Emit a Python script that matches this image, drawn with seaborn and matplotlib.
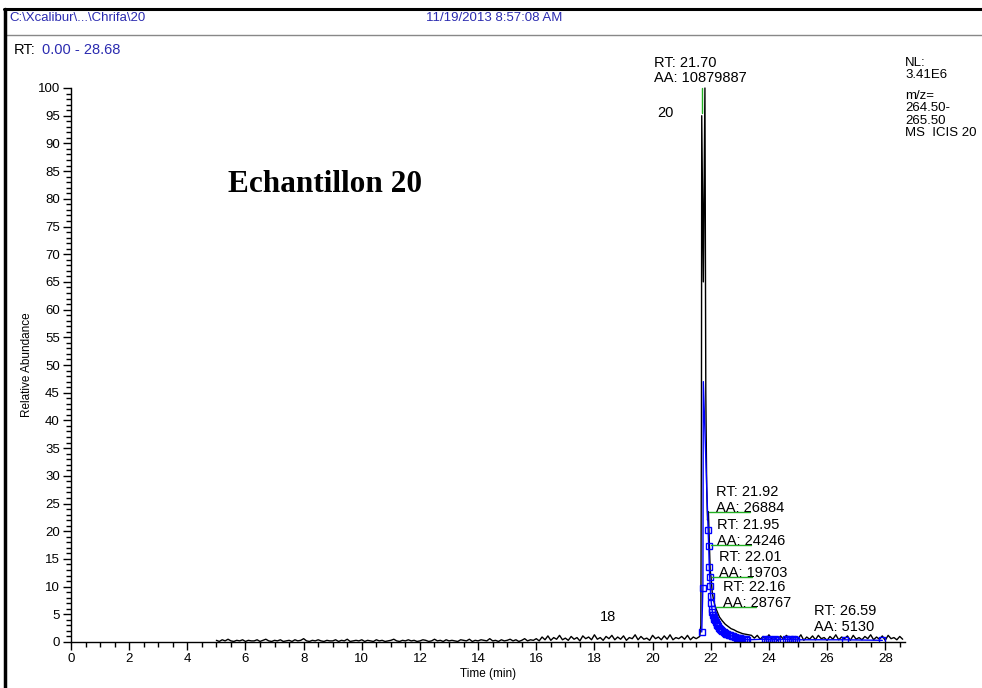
import numpy as np
import pandas as pd
import matplotlib
matplotlib.use("Agg")
import matplotlib.pyplot as plt
from matplotlib.lines import Line2D
from matplotlib.ticker import MultipleLocator
import seaborn as sns

# ---------------- data ----------------
# baseline noise, 5.0 - 15.9 min (step 0.1)
noise_early = [0.3, 0.1, 0.4, 0.2, 0.5, 0.2, 0.1, 0.3, 0.2, 0.4,
               0.1, 0.3, 0.2, 0.2, 0.4, 0.1, 0.3, 0.5, 0.2, 0.1,
               0.3, 0.2, 0.4, 0.1, 0.2, 0.3, 0.1, 0.4, 0.2, 0.3,
               0.6, 0.2, 0.1, 0.3, 0.2, 0.4, 0.2, 0.1, 0.3, 0.2,
               0.2, 0.4, 0.1, 0.3, 0.2, 0.5, 0.1, 0.2, 0.3, 0.2,
               0.4, 0.1, 0.3, 0.2, 0.1, 0.4, 0.2, 0.3, 0.1, 0.2,
               0.3, 0.5, 0.2, 0.1, 0.3, 0.2, 0.4, 0.2, 0.3, 0.1,
               0.2, 0.4, 0.3, 0.1, 0.2, 0.5, 0.2, 0.3, 0.1, 0.4,
               0.2, 0.3, 0.2, 0.1, 0.4, 0.3, 0.2, 0.5, 0.1, 0.3,
               0.2, 0.4, 0.3, 0.2, 0.6, 0.2, 0.3, 0.1, 0.4, 0.2,
               0.3, 0.5, 0.2, 0.4, 0.1, 0.3, 0.6, 0.2, 0.4, 0.3]
# baseline noise, 16.0 - 21.5 min (step 0.1)
noise_late = [0.6, 0.2, 0.9, 0.4, 1.1, 0.3, 0.8, 0.5, 1.2, 0.4,
              0.7, 0.3, 1.0, 0.5, 0.8, 0.2, 1.1, 0.6, 0.9, 0.4,
              1.3, 0.5, 0.8, 0.3, 1.0, 0.6, 1.2, 0.4, 0.9, 0.5,
              1.1, 0.3, 0.8, 0.6, 1.3, 0.4, 1.0, 0.5, 0.7, 0.3,
              1.2, 0.6, 0.9, 0.4, 1.1, 0.5, 1.3, 0.4, 0.8, 0.6,
              1.0, 0.5, 1.2, 0.4, 0.9, 0.6]
# main peak (black trace)
peak_t = [21.62, 21.66, 21.68, 21.69, 21.745, 21.80, 21.83, 21.86, 21.89, 21.92,
          21.95, 21.98, 22.01, 22.05, 22.10, 22.16, 22.22, 22.30, 22.40, 22.50,
          22.60, 22.70, 22.80, 22.90, 23.00, 23.10, 23.20, 23.30, 23.40]
peak_v = [1.0, 3.0, 40.0, 95.0, 65.0, 100.0, 45.0, 28.0, 22.0, 23.5,
          18.0, 13.0, 11.7, 9.0, 7.5, 6.3, 5.5, 4.5, 3.8, 3.2,
          2.8, 2.4, 2.2, 1.9, 1.7, 1.5, 1.4, 1.3, 1.2]
# baseline noise after the peak, 23.5 - 28.6 min (step 0.1)
noise_tail = [0.7, 1.2, 0.5, 1.0, 0.4, 1.3, 0.6, 0.9, 0.3, 1.1,
              0.5, 1.2, 0.7, 0.4, 1.0, 0.6, 1.3, 0.3, 0.9, 0.5,
              1.1, 0.4, 1.2, 0.6, 0.8, 0.3, 1.0, 0.5, 1.3, 0.4,
              0.9, 0.6, 1.1, 0.3, 1.2, 0.5, 0.8, 0.4, 1.0, 0.6,
              1.3, 0.4, 0.9, 0.5, 1.1, 0.3, 1.2, 0.6, 0.8, 0.4,
              1.0, 0.5]

# ICIS detected trace (blue, squares)
blue_t = [21.69, 21.73, 21.745, 21.91, 21.93, 21.95, 21.965, 21.98, 22.00, 22.02,
          22.04, 22.06, 22.08, 22.10, 22.12, 22.14, 22.17, 22.20, 22.23, 22.26,
          22.29, 22.32, 22.36, 22.40, 22.44, 22.48, 22.52, 22.57, 22.62, 22.67,
          22.72, 22.78, 22.84, 22.90, 22.96, 23.02, 23.08, 23.14, 23.20, 23.26,
          23.85, 23.92, 23.99, 24.06, 24.13, 24.20, 24.27,
          24.58, 24.65, 24.72, 24.79, 24.86, 24.93, 26.63, 27.90]
blue_v = [1.8, 9.8, 47.0, 20.2, 17.3, 13.5, 11.7, 10.1, 8.3, 7.0,
          6.0, 5.4, 4.9, 4.5, 4.2, 3.9, 3.6, 3.3, 3.0, 2.8,
          2.6, 2.4, 2.2, 2.0, 1.8, 1.7, 1.5, 1.4, 1.3, 1.2,
          1.1, 1.0, 0.9, 0.8, 0.7, 0.7, 0.6, 0.5, 0.5, 0.4,
          0.5, 0.4, 0.5, 0.4, 0.4, 0.5, 0.4,
          0.5, 0.4, 0.5, 0.4, 0.5, 0.4, 0.4, 0.3]

x_ticks = list(range(0, 29, 2))
y_ticks = list(range(0, 101, 5))

# annotation values
ann_rt = ["21.92", "21.95", "22.01", "22.16"]
ann_aa = ["26884", "24246", "19703", "28767"]
ann_level = [23.5, 17.5, 11.7, 6.3]
ann_x0 = [21.94, 22.0, 22.03, 22.17]
ann_tx = [22.18, 22.21, 22.28, 22.42]

# ---------------- build frames ----------------
t_early = np.round(np.arange(5.0, 5.0 + 0.1 * len(noise_early), 0.1), 2)[:len(noise_early)]
t_late = np.round(np.arange(16.0, 16.0 + 0.1 * len(noise_late), 0.1), 2)[:len(noise_late)]
t_tail = np.round(np.arange(23.5, 23.5 + 0.1 * len(noise_tail), 0.1), 2)[:len(noise_tail)]
black = pd.DataFrame({
    "t": np.concatenate([t_early, t_late, peak_t, t_tail]),
    "v": np.concatenate([noise_early, noise_late, peak_v, noise_tail]),
})
blue = pd.DataFrame({"t": blue_t, "v": blue_v})

# ---------------- figure ----------------
sns.set_theme(style="white")
plt.rcParams["font.family"] = ["Liberation Sans", "DejaVu Sans"]
plt.rcParams["text.color"] = "black"
plt.rcParams["axes.labelcolor"] = "black"
plt.rcParams["xtick.color"] = "black"
plt.rcParams["ytick.color"] = "black"

W, H = 982, 688
fig = plt.figure(figsize=(W / 100, H / 100), dpi=100)
fig.patch.set_facecolor("white")
ax = fig.add_axes([71 / W, 1 - 642 / H, (905 - 71) / W, (642 - 88) / H])
ax.set_facecolor("white")

sns.lineplot(data=black, x="t", y="v", ax=ax, color="black", lw=1.0,
             sort=False, estimator=None, clip_on=False)
sns.lineplot(data=blue, x="t", y="v", ax=ax, color="#0000ff", lw=1.0,
             sort=False, estimator=None, marker="s", markersize=5,
             markerfacecolor="none", markeredgecolor="#0000ff",
             markeredgewidth=1.0, markevery=[i for i in range(len(blue_t)) if i != 2])

ax.set_xlim(0, 28.68)
ax.set_ylim(0, 100)
for s in ["top", "right"]:
    ax.spines[s].set_visible(False)
for s in ["left", "bottom"]:
    ax.spines[s].set_color("black")
    ax.spines[s].set_linewidth(1.0)

ax.set_xticks(x_ticks)
ax.set_yticks(y_ticks)
ax.xaxis.set_minor_locator(MultipleLocator(0.5))
ax.yaxis.set_minor_locator(MultipleLocator(1))
ax.tick_params(axis="both", which="major", direction="out", length=6, width=1,
               color="black", labelsize=9.5, pad=2, labelcolor="black",
               bottom=True, left=True)
ax.tick_params(axis="both", which="minor", direction="out", length=3.5, width=1,
               color="black", bottom=True, left=True)
ax.set_xlabel("Time (min)", fontsize=8.5, labelpad=2, color="black")
ax.set_ylabel("Relative Abundance", fontsize=8.5, labelpad=3, color="black")
ax.grid(False)

# green markers
ax.plot([21.70, 21.70], [95.5, 100], color="#22b022", lw=1, clip_on=False)
for x0, lvl in zip(ann_x0, ann_level):
    ax.plot([x0, x0 + 1.4], [lvl, lvl], color="#22b022", lw=1)

fs = 10.5
ax.text(20.05, 100.5, "RT: 21.70\nAA: 10879887", ha="left", va="bottom",
        fontsize=fs, linespacing=1.1, clip_on=False)
ax.text(20.45, 95.5, "20", ha="center", va="center", fontsize=fs)
ax.text(18.45, 4.5, "18", ha="center", va="center", fontsize=fs)
for tx, lvl, rt, aa in zip(ann_tx, ann_level, ann_rt, ann_aa):
    ax.text(tx, lvl - 0.5, f"RT: {rt}\nAA: {aa}", ha="left", va="bottom",
            fontsize=fs, linespacing=1.15)
ax.text(25.55, 1.5, "RT: 26.59\nAA: 5130", ha="left", va="bottom",
        fontsize=fs, linespacing=1.15)
ax.text(5.4, 82.5, "Echantillon 20", fontsize=22.5, fontweight="bold",
        family=["Liberation Serif", "DejaVu Serif"], ha="left", va="center",
        color="black")

# ---------------- header / frame ----------------
def fx(x):
    return x / W

def fy(y):
    return 1 - y / H

fig.add_artist(Line2D([fx(4), fx(982)], [fy(9), fy(9)], color="black", lw=2.2))
fig.add_artist(Line2D([fx(5), fx(982)], [fy(35), fy(35)], color="#888888", lw=1.0))
fig.add_artist(Line2D([fx(5), fx(5)], [fy(9), fy(688)], color="black", lw=2.5))

navy = "#2b2bb0"
fig.text(fx(9), fy(21), r"C:\Xcalibur\...\Chrifa\20", color=navy, fontsize=9.5,
         ha="left", va="baseline")
fig.text(fx(426), fy(21), "11/19/2013 8:57:08 AM", color=navy, fontsize=9.5,
         ha="left", va="baseline")
fig.text(fx(14), fy(50), "RT:", color="black", fontsize=10.5, ha="left", va="center")
fig.text(fx(42), fy(50), "0.00 - 28.68", color=navy, fontsize=10.5, ha="left", va="center")
fig.text(fx(905), fy(57), "NL:\n3.41E6", color="black", fontsize=9.5,
         ha="left", va="top", linespacing=1.05)
fig.text(fx(905), fy(90), "m/z=\n264.50-\n265.50\nMS  ICIS 20", color="black",
         fontsize=9.5, ha="left", va="top", linespacing=1.05)

fig.savefig("out.png", dpi=100, facecolor="white")
